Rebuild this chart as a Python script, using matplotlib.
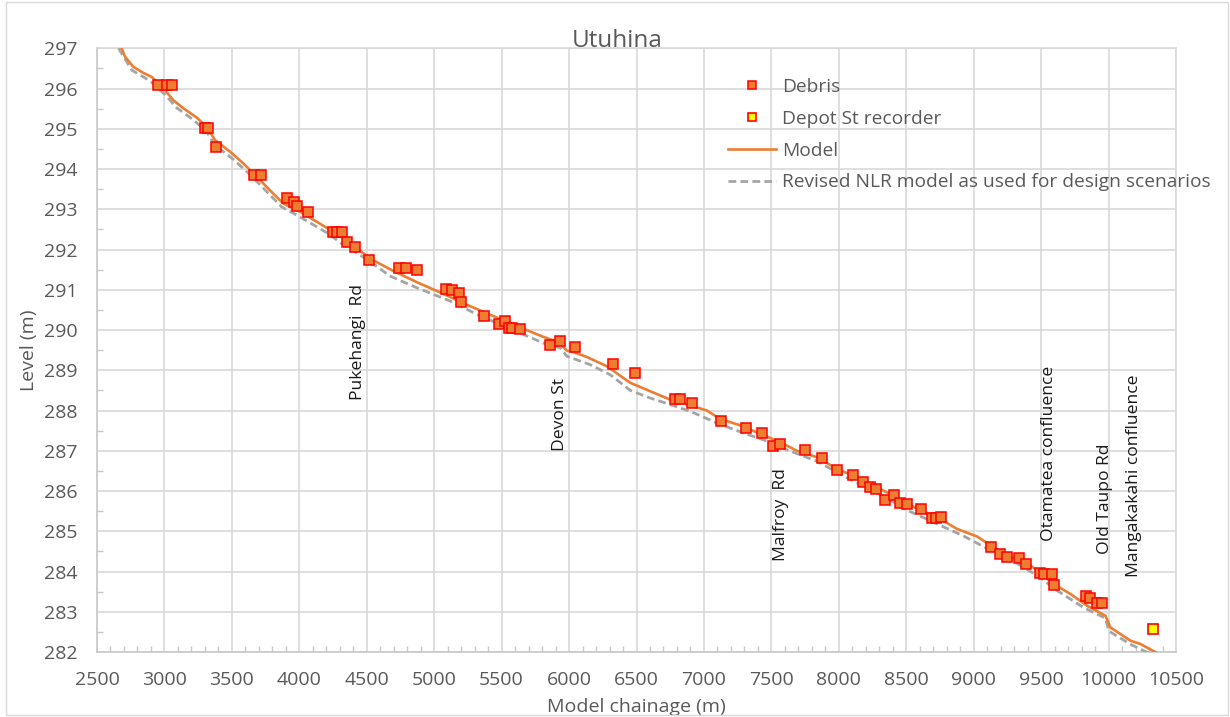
import matplotlib
matplotlib.use("Agg")
import matplotlib.pyplot as plt
from matplotlib.ticker import MultipleLocator
from matplotlib.patches import Rectangle

# Debris marks (chainage m, level m)
debris_x = [2955, 3022, 3054, 3300, 3320, 3385, 3665, 3714, 3912, 3957, 3981, 4062,
            4253, 4283, 4320, 4352, 4414, 4520, 4740, 4792, 4871, 5089, 5131, 5183,
            5197, 5373, 5484, 5526, 5551, 5576, 5638, 5860, 5934, 6041, 6323, 6486,
            6788, 6825, 6911, 7127, 7312, 7428, 7512, 7566, 7752, 7875, 7986, 8105,
            8179, 8229, 8278, 8345, 8407, 8451, 8506, 8610, 8691, 8723, 8758, 9129,
            9198, 9248, 9334, 9391, 9495, 9525, 9582, 9599, 9836, 9866, 9915, 9948]
debris_y = [296.10, 296.10, 296.10, 295.02, 295.02, 294.55, 293.85, 293.85, 293.27, 293.17,
            293.08, 292.94, 292.43, 292.43, 292.43, 292.18, 292.06, 291.73, 291.53, 291.53,
            291.50, 291.01, 291.00, 290.93, 290.70, 290.34, 290.16, 290.22, 290.06, 290.05,
            290.03, 289.62, 289.73, 289.59, 289.15, 288.92, 288.28, 288.28, 288.18, 287.75,
            287.56, 287.43, 287.11, 287.16, 287.01, 286.82, 286.51, 286.39, 286.22, 286.11,
            286.05, 285.78, 285.89, 285.70, 285.68, 285.56, 285.33, 285.34, 285.35, 284.62,
            284.43, 284.37, 284.34, 284.19, 283.96, 283.95, 283.94, 283.66, 283.38, 283.33,
            283.22, 283.22]

# Depot St recorder
depot_x = [10328]
depot_y = [282.57]

# Model water level profile
model_x = [2683, 2708, 2769, 2843, 2905, 2955, 3004, 3066, 3140, 3239, 3313, 3375, 3487,
           3585, 3684, 3783, 3882, 4005, 4129, 4253, 4377, 4522, 4690, 4871, 5094, 5193,
           5366, 5514, 5662, 5810, 5921, 5983, 6033, 6132, 6280, 6453, 6601, 6750, 6899,
           7022, 7121, 7270, 7418, 7566, 7690, 7838, 7986, 8134, 8283, 8431, 8580, 8728,
           8876, 9025, 9148, 9297, 9421, 9495, 9594, 9718, 9841, 9977, 10014, 10163,
           10236, 10372]
model_y = [297.00, 296.79, 296.54, 296.39, 296.29, 296.13, 295.96, 295.71, 295.51, 295.28,
           295.05, 294.72, 294.43, 294.14, 293.81, 293.47, 293.14, 292.94, 292.69, 292.44,
           292.17, 291.78, 291.48, 291.19, 290.86, 290.70, 290.45, 290.24, 290.03, 289.83,
           289.70, 289.49, 289.45, 289.33, 289.10, 288.69, 288.48, 288.27, 288.13, 288.00,
           287.79, 287.63, 287.42, 287.21, 287.00, 286.84, 286.55, 286.34, 286.09, 285.84,
           285.56, 285.35, 285.06, 284.87, 284.60, 284.33, 284.15, 283.96, 283.69, 283.44,
           283.15, 282.90, 282.61, 282.28, 282.20, 281.95]

# Revised NLR model profile
nlr_x = [2660, 2757, 2893, 3004, 3091, 3215, 3313, 3375, 3511, 3635, 3758, 3869, 4005,
         4203, 4352, 4500, 4673, 4871, 5119, 5316, 5489, 5662, 5835, 5934, 5983, 6156,
         6305, 6454, 6602, 6676, 6899, 7096, 7294, 7467, 7641, 7838, 8011, 8209, 8382,
         8456, 8679, 8926, 9124, 9322, 9495, 9594, 9817, 9977, 10002, 10163, 10311]
nlr_y = [297.00, 296.46, 296.19, 295.85, 295.52, 295.22, 294.93, 294.59, 294.24, 293.86,
         293.44, 293.06, 292.81, 292.42, 292.06, 291.76, 291.34, 291.05, 290.72, 290.39,
         290.14, 289.89, 289.64, 289.56, 289.35, 289.14, 288.89, 288.50, 288.31, 288.23,
         287.98, 287.69, 287.44, 287.24, 286.99, 286.74, 286.42, 286.07, 285.79, 285.60,
         285.26, 284.88, 284.53, 284.20, 283.85, 283.58, 283.10, 282.84, 282.52, 282.19,
         281.95]

# Location labels (chainage, level at text foot)
site_labels = ["Pukehangi  Rd", "Devon St", "Malfroy  Rd", "Otamatea confluence",
               "Old Taupo Rd", "Mangakakahi confluence"]
site_x = [4436, 5935, 7574, 9557, 9977, 10187]
site_y = [288.25, 287.00, 284.27, 284.77, 284.44, 283.86]

plt.rcParams['font.family'] = ['Open Sans', 'DejaVu Sans']
TXT = '#595959'
GRID = '#d9d9d9'

W, H = 1230, 717
fig = plt.figure(figsize=(W / 100, H / 100), dpi=100)
ax = fig.add_axes([97 / W, 1 - 652 / H, (1176 - 97) / W, (652 - 48.3) / H])

ax.plot(nlr_x, nlr_y, color='#a5a5a5', lw=2.0, dashes=(2.8, 1.5),
        label='Revised NLR model as used for design scenarios', zorder=3)
ax.plot(model_x, model_y, color='#ed7d31', lw=1.9, label='Model', zorder=4)
ax.plot(debris_x, debris_y, ls='none', marker='s', ms=6.5, mfc='#ed7d31',
        mec='#ff0000', mew=1.1, label='Debris', zorder=5)
ax.plot(depot_x, depot_y, ls='none', marker='s', ms=7, mfc='#ffff00',
        mec='#ff0000', mew=1.2, label='Depot St recorder', zorder=5)

for t, x, y in zip(site_labels, site_x, site_y):
    ax.text(x, y, t, rotation=90, ha='center', va='bottom', fontsize=12.6,
            color='#1a1a1a', zorder=6)

ax.set_xlim(2500, 10500)
ax.set_ylim(282, 297)
ax.xaxis.set_major_locator(MultipleLocator(500))
ax.xaxis.set_minor_locator(MultipleLocator(100))
ax.yaxis.set_major_locator(MultipleLocator(1))
ax.yaxis.set_minor_locator(MultipleLocator(0.5))
ax.grid(True, which='major', color=GRID, lw=1.2, zorder=0)
ax.set_axisbelow(True)
for s in ax.spines.values():
    s.set_color(GRID)
    s.set_linewidth(1.2)
ax.spines['left'].set_color('#c8c8c8')
ax.spines['bottom'].set_color('#c8c8c8')
ax.tick_params(which='major', length=0, labelsize=14, labelcolor=TXT)
ax.tick_params(axis='x', which='major', pad=14)
ax.tick_params(axis='y', which='major', pad=14)
ax.tick_params(which='minor', direction='in', length=4, width=1, color='#c8c8c8')
ax.tick_params(axis='x', which='minor', top=False)
ax.tick_params(axis='y', which='minor', right=False)

ax.set_xlabel('Model chainage (m)', fontsize=14, color=TXT, labelpad=6)
ax.set_ylabel('Level (m)', fontsize=14, color=TXT, labelpad=4)
fig.text(617 / W, 1 - 47 / H, 'Utuhina', ha='center', va='baseline',
         fontsize=17.5, color=TXT)

handles, labels = ax.get_legend_handles_labels()
order = [2, 3, 1, 0]
leg = ax.legend([handles[i] for i in order], [labels[i] for i in order],
                loc='upper left', bbox_to_anchor=(728 / W, 1 - 78 / H),
                bbox_transform=fig.transFigure, frameon=False, fontsize=13.8,
                handlelength=2.5, handletextpad=0.3, labelspacing=0.72,
                borderpad=0, borderaxespad=0, markerscale=0.8)
for t in leg.get_texts():
    t.set_color(TXT)

fig.patches.append(Rectangle((6 / W, 2 / H), (1228 - 6) / W, (715 - 2) / H,
                             transform=fig.transFigure, fill=False,
                             edgecolor=GRID, lw=1))

fig.savefig('out.png', dpi=100)
